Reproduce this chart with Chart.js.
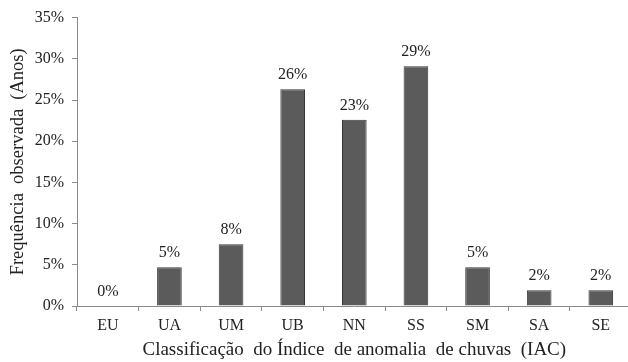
<!DOCTYPE html>
<html>
<head>
<meta charset="utf-8">
<script src="https://cdn.jsdelivr.net/npm/chart.js@4/dist/chart.umd.min.js"></script>
<style>
  html, body { margin: 0; padding: 0; overflow: hidden; background: #fff; }
  #wrap { width: 640px; height: 362px; }
</style>
</head>
<body>
<div id="wrap"><canvas id="c" width="640" height="362"></canvas></div>
<script>
// Classes do IAC e frequência observada (%) de cada uma
const categories = ['EU', 'UA', 'UM', 'UB', 'NN', 'SS', 'SM', 'SA', 'SE'];
const frequencies = [0, 4.7, 7.5, 26.3, 22.6, 29.1, 4.7, 1.9, 1.9];
const yTickValues = [0, 5, 10, 15, 20, 25, 30, 35];

const serif = '"Liberation Serif", "Times New Roman", serif';
const axisGray = '#8a8a8a';
const textColor = '#222';

// Rótulos de valor acima de cada barra
const valueLabels = {
  id: 'valueLabels',
  afterDatasetsDraw(chart) {
    const ctx = chart.ctx;
    const meta = chart.getDatasetMeta(0);
    ctx.save();
    ctx.font = '16px ' + serif;
    ctx.fillStyle = textColor;
    ctx.textAlign = 'center';
    ctx.textBaseline = 'alphabetic';
    meta.data.forEach((bar, i) => {
      const v = chart.data.datasets[0].data[i];
      ctx.fillText(Math.round(v) + '%', bar.x, bar.y - 10);
    });
    ctx.restore();
  }
};

new Chart(document.getElementById('c'), {
  type: 'bar',
  data: {
    labels: categories,
    datasets: [{
      data: frequencies,
      backgroundColor: '#5b5b5b',
      borderColor: '#363636',
      borderWidth: 1,
      categoryPercentage: 1,
      barPercentage: 0.4
    }]
  },
  options: {
    responsive: false,
    animation: false,
    layout: { padding: { top: 15, right: 8.4, bottom: 0, left: 0 } },
    plugins: {
      legend: { display: false },
      tooltip: { enabled: false }
    },
    scales: {
      x: {
        grid: { display: true, drawOnChartArea: false, tickLength: 5, color: axisGray, offset: true },
        border: { color: axisGray, width: 1 },
        ticks: { color: textColor, font: { family: serif, size: 16 }, padding: 5, maxRotation: 0, autoSkip: false },
        title: {
          display: true,
          text: 'Classificação  do Índice  de anomalia  de chuvas  (IAC)',
          color: textColor,
          font: { family: serif, size: 19 },
          padding: { top: 2, bottom: 1 }
        },
        afterFit(scale) { scale.height = 56; }
      },
      y: {
        min: 0,
        max: 35,
        afterBuildTicks(scale) { scale.ticks = yTickValues.map(v => ({ value: v })); },
        grid: { display: true, drawOnChartArea: false, tickLength: 5, color: axisGray },
        border: { color: axisGray, width: 1 },
        ticks: {
          color: textColor,
          font: { family: serif, size: 16 },
          padding: 8,
          callback: v => v + '%'
        },
        title: {
          display: true,
          text: 'Frequência  observada  (Anos)',
          color: textColor,
          font: { family: serif, size: 18.5 },
          padding: { top: 7, bottom: 4 }
        },
        afterFit(scale) { scale.width = 77; }
      }
    }
  },
  plugins: [valueLabels]
});
</script>
</body>
</html>
